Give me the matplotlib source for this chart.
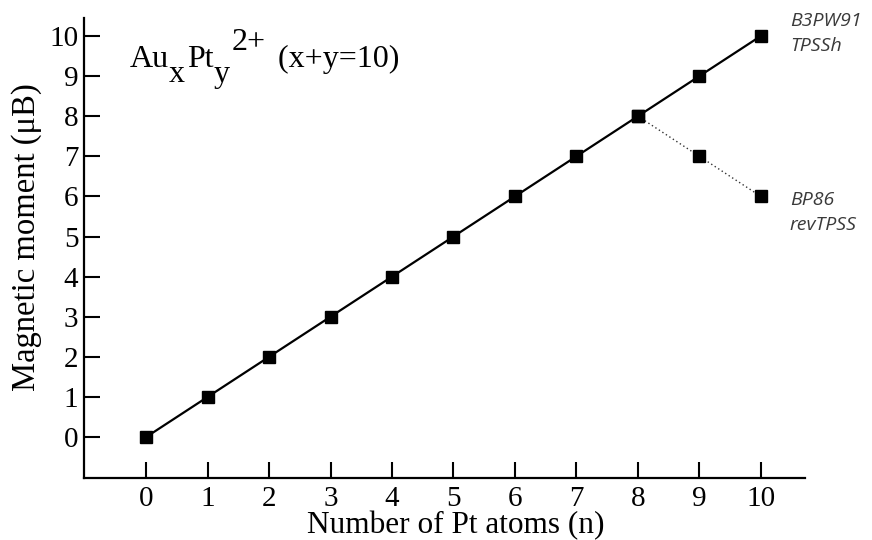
import matplotlib
matplotlib.use("Agg")
import matplotlib.pyplot as plt

n_atoms = [0, 1, 2, 3, 4, 5, 6, 7, 8, 9, 10]
moment_main = [0, 1, 2, 3, 4, 5, 6, 7, 8, 9, 10]
n_alt = [8, 9, 10]
moment_alt = [8, 7, 6]
x_ticks = [0, 1, 2, 3, 4, 5, 6, 7, 8, 9, 10]
y_ticks = [0, 1, 2, 3, 4, 5, 6, 7, 8, 9, 10]
label_top = "B3PW91\nTPSSh"
label_bottom = "BP86\nrevTPSS"
title_parts = [("Au", 0), ("x", -15), ("Pt", 0), ("y", -15), ("2+", 17), (" (x+y=10)", 0)]

serif = 'Liberation Serif'
fig = plt.figure(figsize=(8.72, 5.4), dpi=100)
ax = fig.add_axes([0.0963, 0.1148, 0.827, 0.852])

ax.plot(n_alt, moment_alt, linestyle=(0, (1, 2)), color='#333333', lw=1.0,
        marker='s', markersize=8, markerfacecolor='black', markeredgecolor='black', zorder=2)
ax.plot(n_atoms, moment_main, color='black', lw=1.6,
        marker='s', markersize=8, markerfacecolor='black', markeredgecolor='black', zorder=3)

ax.set_xlim(-1.01, 10.72)
ax.set_ylim(-1.02, 10.45)
ax.set_xticks(x_ticks)
ax.set_yticks(y_ticks)
ax.set_xticklabels([str(t) for t in x_ticks], fontname=serif, fontsize=21)
ax.set_yticklabels([str(t) for t in y_ticks], fontname=serif, fontsize=21)
ax.tick_params(direction='in', length=11.5, width=1.5, pad=4)
ax.tick_params(axis='x', pad=6)
for s in ['top', 'right']:
    ax.spines[s].set_visible(False)
for s in ['left', 'bottom']:
    ax.spines[s].set_linewidth(1.6)

ax.set_xlabel('Number of Pt atoms (n)', fontname=serif, fontsize=22.5)
ax.set_ylabel('Magnetic moment (\u03bcB)', fontname=serif, fontsize=23.5)
ax.xaxis.set_label_coords(0.515, -0.072)
ax.yaxis.set_label_coords(-0.058, 0.523)

# title built from pieces laid side by side
fig.canvas.draw()
renderer = fig.canvas.get_renderer()
x_px = 130
base_px = 540 - 67
for txt, dy in title_parts:
    t = fig.text(x_px / 872, (base_px + dy) / 540, txt, fontname=serif, fontsize=23,
                 ha='left', va='baseline')
    bb = t.get_window_extent(renderer=renderer)
    x_px = bb.x1 + (2 if txt in ("x", "y") else 0) + (4 if txt == "2+" else 0)

ax.text(10.47, 10.06, label_top, fontname='Open Sans', style='italic', fontsize=14,
        color='#3a3a3a', ha='left', va='center', linespacing=1.45, clip_on=False)
ax.text(10.47, 5.60, label_bottom, fontname='Open Sans', style='italic', fontsize=14,
        color='#3a3a3a', ha='left', va='center', linespacing=1.45, clip_on=False)

fig.savefig('out.png', dpi=100)
